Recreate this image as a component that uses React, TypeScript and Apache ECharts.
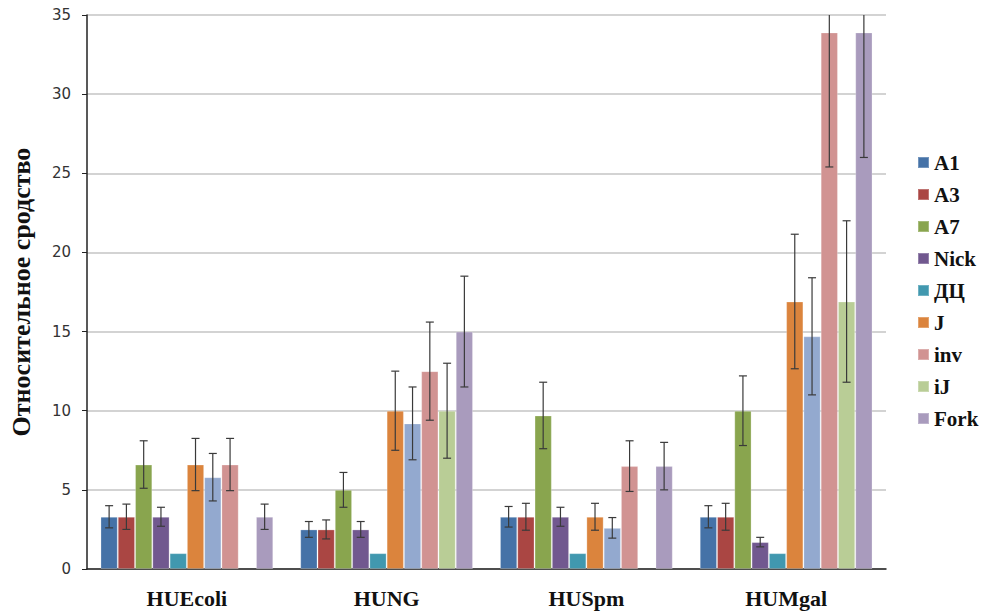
import React, { useEffect, useRef } from "react";
import * as echarts from "echarts";

const categories = ["HUEcoli", "HUNG", "HUSpm", "HUMgal"];
const seriesNames = ["A1", "A3", "A7", "Nick", "ДЦ", "J", "J*", "inv", "iJ", "Fork"];
const legendNames = ["A1", "A3", "A7", "Nick", "ДЦ", "J", "inv", "iJ", "Fork"];
const colors = ["#4572A7", "#AA4643", "#89A54E", "#71588F", "#4198AF", "#DB843D", "#93A9CF", "#D19392", "#B9CD96", "#A99BBD"];

const valA1 = [3.3, 2.5, 3.3, 3.3];
const valA3 = [3.3, 2.5, 3.3, 3.3];
const valA7 = [6.6, 5.0, 9.7, 10.0];
const valNick = [3.3, 2.5, 3.3, 1.7];
const valDC = [1.0, 1.0, 1.0, 1.0];
const valJ = [6.6, 10.0, 3.3, 16.9];
const valJ2 = [5.8, 9.2, 2.6, 14.7];
const valInv = [6.6, 12.5, 6.5, 33.9];
const valIJ = [null, 10.0, null, 16.9];
const valFork = [3.3, 15.0, 6.5, 33.9];

const errA1 = [0.7, 0.5, 0.65, 0.7];
const errA3 = [0.8, 0.6, 0.85, 0.85];
const errA7 = [1.5, 1.1, 2.1, 2.2];
const errNick = [0.6, 0.5, 0.6, 0.3];
const errDC = [0, 0, 0, 0];
const errJ = [1.65, 2.5, 0.85, 4.25];
const errJ2 = [1.5, 2.3, 0.65, 3.7];
const errInv = [1.65, 3.1, 1.6, 8.5];
const errIJ = [0, 3.0, 0, 5.1];
const errFork = [0.8, 3.5, 1.5, 7.9];

const values = [valA1, valA3, valA7, valNick, valDC, valJ, valJ2, valInv, valIJ, valFork];
const errors = [errA1, errA3, errA7, errNick, errDC, errJ, errJ2, errInv, errIJ, errFork];

const Y_MAX = 35;
const CAT_GAP = 0.135;
const SERIF = "'Liberation Serif', 'Times New Roman', serif";

export default function App() {
  const ref = useRef<HTMLDivElement>(null);
  useEffect(() => {
    if (!ref.current) return;
    const chart = echarts.init(ref.current, null, { renderer: "svg" });
    const n = seriesNames.length;

    const barSeries = seriesNames.map((name, i) => ({
      name,
      type: "bar",
      data: values[i].map((v) => (v == null ? "-" : v)),
      barGap: 0,
      barCategoryGap: (CAT_GAP * 100).toFixed(1) + "%",
      itemStyle: { color: colors[i], borderColor: "rgba(255,255,255,0.25)", borderWidth: 1 },
      z: 2,
    }));

    const errSeries = seriesNames.map((name, i) => ({
      name: name + "_err",
      type: "custom",
      z: 5,
      clip: true,
      data: values[i]
        .map((v, c) => (v == null || !errors[i][c] ? null : [c, v - errors[i][c], v + errors[i][c]]))
        .filter((d) => d != null),
      renderItem: (params: any, api: any) => {
        const c = api.value(0);
        const lo = api.value(1);
        const hi = api.value(2);
        const band = api.size([1, 0])[0];
        const bw = (band * (1 - CAT_GAP)) / n;
        const center = api.coord([c, 0])[0];
        const x = center - (band * (1 - CAT_GAP)) / 2 + (i + 0.5) * bw;
        const clipped = hi > Y_MAX;
        const pLo = api.coord([c, lo])[1];
        const pHi = api.coord([c, Math.min(hi, Y_MAX)])[1];
        const cap = 4;
        const st = { stroke: "#3a3a3a", lineWidth: 1.2 };
        const children: any[] = [
          { type: "line", shape: { x1: x, y1: pLo, x2: x, y2: pHi }, style: st },
          { type: "line", shape: { x1: x - cap, y1: pLo, x2: x + cap, y2: pLo }, style: st },
        ];
        if (!clipped) {
          children.push({ type: "line", shape: { x1: x - cap, y1: pHi, x2: x + cap, y2: pHi }, style: st });
        }
        return { type: "group", children };
      },
    }));

    chart.setOption({
      animation: false,
      backgroundColor: "#ffffff",
      textStyle: { fontFamily: SERIF },
      grid: { left: 84, right: 98, top: 15, bottom: 45, containLabel: false },
      legend: {
        data: legendNames,
        orient: "vertical",
        left: 912,
        top: 147,
        itemWidth: 11,
        itemHeight: 11,
        itemGap: 11,
        icon: "rect",
        textStyle: {
          fontFamily: SERIF,
          fontWeight: "bold",
          fontSize: 21,
          color: "#111",
          width: 43,
          align: "center",
          lineHeight: 21,
        },
      },
      xAxis: {
        type: "category",
        data: categories,
        axisLine: { lineStyle: { color: "#222", width: 1.5 } },
        axisTick: { show: false },
        axisLabel: {
          fontFamily: SERIF,
          fontWeight: "bold",
          fontSize: 22,
          color: "#111",
          margin: 18,
        },
      },
      yAxis: {
        type: "value",
        min: 0,
        max: Y_MAX,
        interval: 5,
        name: "Относительное сродство",
        nameLocation: "middle",
        nameGap: 53,
        nameTextStyle: {
          fontFamily: SERIF,
          fontWeight: "bold",
          fontSize: 26,
          color: "#111",
        },
        axisLine: { show: true, lineStyle: { color: "#222", width: 1.5 } },
        axisTick: { show: true, length: 5, lineStyle: { color: "#222" } },
        axisLabel: {
          fontFamily: "'DejaVu Sans', sans-serif",
          fontSize: 15,
          color: "#333",
          margin: 16,
        },
        splitLine: { lineStyle: { color: "#c4c4c4", width: 1.5 } },
      },
      series: [...barSeries, ...errSeries],
    });
    return () => chart.dispose();
  }, []);
  return (
    <div
      ref={ref}
      style={{ position: "fixed", left: 0, top: 0, width: 984, height: 614 }}
    />
  );
}
